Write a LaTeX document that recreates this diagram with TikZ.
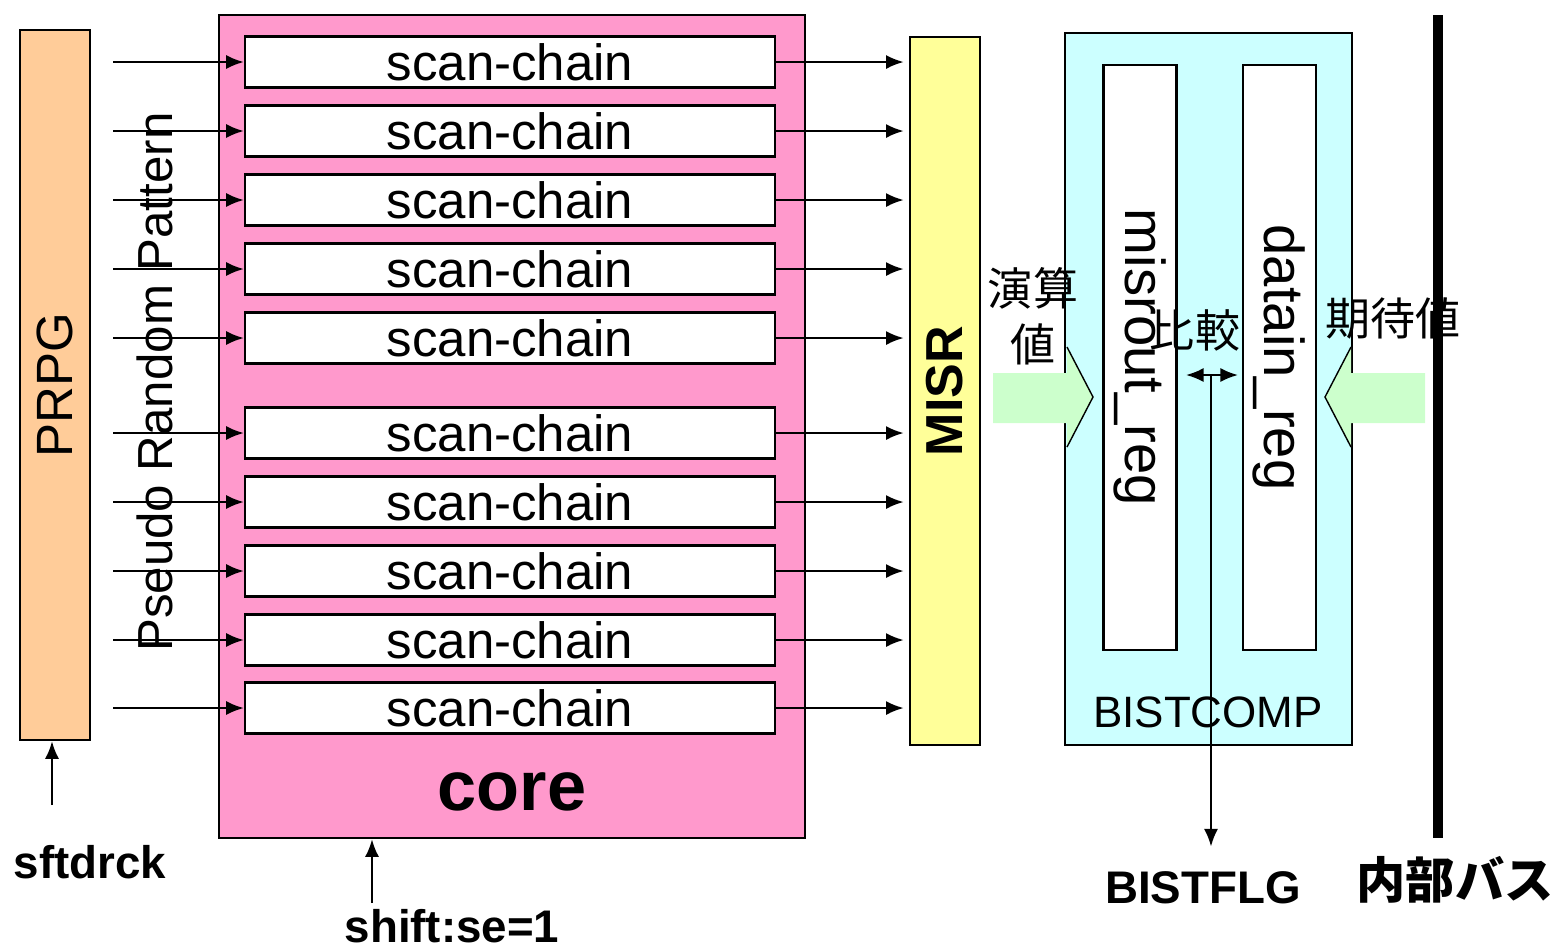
\documentclass[tikz,border=0pt]{standalone}
\usepackage{fontspec}
\setmainfont{Liberation Sans}
\newfontfamily\jpfont{Noto Sans CJK JP}
\usepackage{tikz}
\usetikzlibrary{arrows.meta, calc, positioning}
\definecolor{corepink}{HTML}{FF99CC}
\definecolor{prpgpeach}{HTML}{FFCC99}
\definecolor{misryellow}{HTML}{FFFF99}
\definecolor{compcyan}{HTML}{CCFFFF}
\definecolor{flowgreen}{HTML}{CCFFCC}

\begin{document}
\begin{tikzpicture}[x=0.01cm, y=-0.01cm,
  blk/.style    = {draw, line width=0.6pt, inner sep=0pt},
  chain/.style  = {blk, fill=white, minimum width=5.3cm, minimum height=0.51cm, font=\fontsize{14.5}{16}\selectfont},
  reg/.style    = {blk, fill=white, rotate=-90, minimum width=5.85cm, minimum height=0.73cm, font=\fontsize{16}{18}\selectfont},
  sig/.style    = {font=\fontsize{13}{15}\selectfont\bfseries, inner sep=1pt},
  jp/.style     = {font=\jpfont\fontsize{12.8}{16}\selectfont, inner sep=1pt, align=center},
  arr/.style    = {-{Latex[length=5pt,width=4pt]}, line width=0.6pt},
  darr/.style   = {{Latex[length=5pt,width=4pt]}-{Latex[length=5pt,width=4pt]}, line width=0.6pt},
  fat/.style    = {fill=flowgreen},
]
\useasboundingbox (0,0) rectangle (1560,950);
%%--- PRPG ---
\node[blk, fill=prpgpeach, rotate=90, minimum width=7.1cm, minimum height=0.7cm, font=\fontsize{14.5}{16}\selectfont] (prpg) at (55,385) {PRPG};
\node[rotate=90, font=\fontsize{14}{16}\selectfont, inner sep=0pt] (prp) at (155,382) {Pseudo Random Pattern};
\node[sig] (sft) at (90,862) {sftdrck};
\coordinate (sftin) at (52,805);
\draw[arr] (sftin) -- (sftin |- prpg.west);
%%--- core with scan chains ---
\node[blk, fill=corepink, minimum width=5.85cm, minimum height=8.23cm] (core) at (512,426.5) {};
\node[font=\fontsize{20}{22}\selectfont\bfseries, inner sep=0pt] (corelbl) at (512,792) {core};
\node[sig] (shf) at (452,926) {shift:se=1};
\coordinate (shfin) at (372,903);
\draw[arr] (shfin) -- (shfin |- core.south);
%%--- MISR ---
\node[blk, fill=misryellow, rotate=90, minimum width=7.08cm, minimum height=0.7cm, font=\fontsize{14.8}{16}\selectfont\bfseries] (misr) at (945,391) {MISR};
\foreach \i/\y in {1/62,2/131,3/200,4/269,5/338,6/433,7/502,8/571,9/640,10/708} {
  \node[chain] (sc\i) at (510,\y) {scan-chain};
  \coordinate (in\i) at (113,\y);
  \draw[arr] (in\i) -- (sc\i.west);
  \draw[arr, shorten >=1.5pt] (sc\i.east) -- (sc\i.east -| misr.north);
}
%%--- BISTCOMP ---
\node[blk, fill=compcyan, minimum width=2.87cm, minimum height=7.12cm] (bcomp) at (1208.5,389) {};
\node[font=\fontsize{12.5}{14}\selectfont, inner sep=0pt] (bcomplbl) at (1208,712) {BISTCOMP};
\node[reg] (mreg) at (1140,357.5) {misrout\_reg};
\node[reg] (dreg) at (1279.5,357.5) {datain\_reg};
\node[jp] (cmp) at (1195,330) {比較};
\coordinate (cmpl) at (1186,375);
\coordinate (cmpr) at (1238,375);
\coordinate (cmpm) at (1211,375);
\draw[darr] (cmpl) -- (cmpr);
\node[sig] (flg) at (1203,888) {BISTFLG};
\draw[arr, shorten >=6pt] (cmpm) -- (cmpm |- flg.north);
%%--- result / expected value arrows ---
\node[jp] (calc) at (1033,316) {演算\\値};
\node[jp] (expv) at (1393,318) {期待値};
\fill[fat] (993,373) -- (1067,373) -- (1067,347) -- (1093,397) -- (1067,447) -- (1067,423) -- (993,423) -- cycle;
\draw[line width=0.4pt] (1067,347) -- (1093,397) -- (1067,447);
\fill[fat] (1425,373) -- (1351,373) -- (1351,347) -- (1325,397) -- (1351,447) -- (1351,423) -- (1425,423) -- cycle;
\draw[line width=0.4pt] (1351,347) -- (1325,397) -- (1351,447);
%%--- internal bus ---
\coordinate (bustop) at (1438,15);
\coordinate (busbot) at (1438,838);
\draw[line width=2.8pt] (bustop) -- (busbot);
\node[jp, font=\jpfont\fontsize{14}{16}\selectfont\bfseries] (bus) at (1455,880) {内部バス};
\end{tikzpicture}
\end{document}
